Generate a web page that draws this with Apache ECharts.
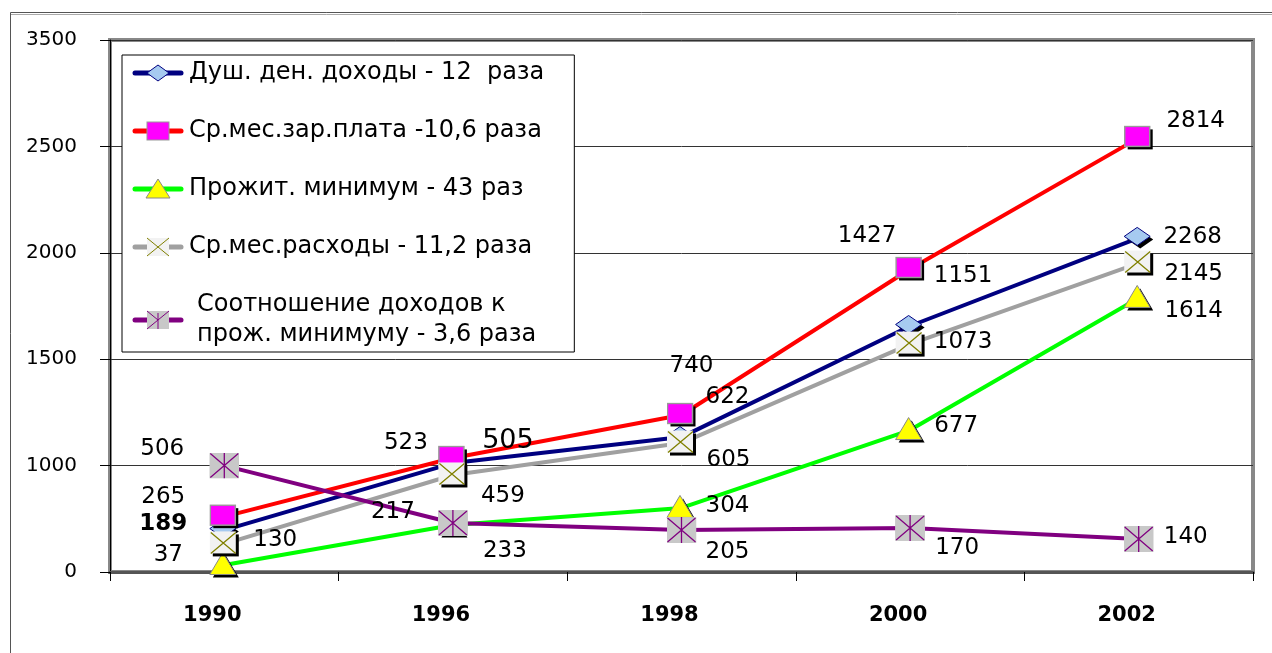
<!DOCTYPE html>
<html>
<head>
<meta charset="utf-8">
<title>Доходы и расходы населения</title>
<script src="https://cdn.jsdelivr.net/npm/echarts@6/dist/echarts.min.js"></script>
<style>
  html, body { margin: 0; padding: 0; background: #fff; }
  #chart { width: 1272px; height: 653px; }
</style>
</head>
<body>
<div id="chart"></div>
<script>
// годы
const years = ['1990', '1996', '1998', '2000', '2002']

// положение точек по шкале графика
const incomeValues = [697, 1012, 1134, 1656, 2070]
const wageValues = [760, 1036, 1238, 1924, 2540]
const minimumValues = [533, 721, 801, 1167, 1788]
const spendingValues = [632, 956, 1106, 1571, 1952]
const ratioValues = [1000, 730, 697, 707, 655]

// подписи у точек
const incomeLabels = ['189', '505', '622', '1151', '2268']
const wageLabels = ['265', '523', '740', '1427', '2814']
const minimumLabels = ['37', '217', '304', '677', '1614']
const spendingLabels = ['130', '459', '605', '1073', '2145']
const ratioLabels = ['506', '233', '205', '170', '140']

// шкала Y (так подписана в оригинале)
const yTickValues = [500, 1000, 1500, 2000, 2500, 3000]
const yTickLabels = ['0', '1000', '1500', '2000', '2500', '3500']

const names = [
  'Душ. ден. доходы - 12  раза',
  'Ср.мес.зар.плата -10,6 раза',
  'Прожит. минимум - 43 раз',
  'Ср.мес.расходы - 11,2 раза',
  'Соотношение доходов к\nпрож. минимуму - 3,6 раза'
]

const FONT = 'DejaVu Sans'

function svg (w, h, body) {
  return 'image://data:image/svg+xml;charset=utf-8,' + encodeURIComponent(
    '<svg xmlns="http://www.w3.org/2000/svg" width="' + w + '" height="' + h + '">' + body + '</svg>')
}

// маркеры на графике (с тенью)
const markers = {
  diamond: svg(31, 23, '<polygon points="4,13 17,4 30,13 17,22" fill="#000"/>' +
    '<polygon points="1,10 14,1 27,10 14,19" fill="#a6caf0" stroke="#000080" stroke-width="1"/>'),
  square: svg(30, 25, '<rect x="4" y="4" width="25" height="20" fill="#000"/>' +
    '<rect x="1" y="1" width="25" height="20" fill="#ff00ff" stroke="#999" stroke-width="1.5"/>'),
  triangle: svg(31, 27, '<polygon points="4,26 17,4 30,26" fill="#000"/>' +
    '<polygon points="1,23 14,1 27,23" fill="#ffff00" stroke="#888" stroke-width="1"/>'),
  cross: svg(31, 27, '<rect x="4" y="4" width="26" height="22" fill="#000"/>' +
    '<rect x="1" y="1" width="26" height="22" fill="#f2f2f2"/>' +
    '<path d="M2,2 L27,23 M27,2 L2,23" stroke="#808000" stroke-width="1.3"/>'),
  star: svg(30, 26, '<rect x="0" y="0" width="30" height="26" fill="#c8c8c8"/>' +
    '<path d="M1,1 L29,25 M29,1 L1,25 M15,0 L15,26" stroke="#800080" stroke-width="1.3"/>')
}
const markerSizes = {
  diamond: [31, 23], square: [30, 25], triangle: [31, 27], cross: [31, 27], star: [30, 26]
}

// значки легенды: линия + маркер
function legendIcon (color, body) {
  return svg(52, 22, '<line x1="3" y1="11" x2="49" y2="11" stroke="' + color +
    '" stroke-width="5" stroke-linecap="round"/>' + body)
}
const legendIcons = [
  legendIcon('#000080', '<polygon points="15,11 26,3 37,11 26,19" fill="#a6caf0" stroke="#000080"/>'),
  legendIcon('#ff0000', '<rect x="15" y="2" width="22" height="18" fill="#ff00ff" stroke="#999"/>'),
  legendIcon('#00ff00', '<polygon points="14,20 26,1 38,20" fill="#ffff00" stroke="#888"/>'),
  legendIcon('#a0a0a0', '<rect x="15" y="2" width="22" height="18" fill="#f2f2f2"/>' +
    '<path d="M15,2 L37,20 M37,2 L15,20" stroke="#808000"/>'),
  legendIcon('#800080', '<rect x="15" y="2" width="22" height="18" fill="#c8c8c8"/>' +
    '<path d="M15,20 L37,2 M15,2 L26,11 M26,4 L26,20" stroke="#800080"/>')
]

// смещения подписей относительно точек
const offsets = {
  income: [[-61, -6], [55, -22], [46, -40], [53, -50], [54, -1]],
  wage: [[-61, -20], [-47, -15], [10, -49], [-43, -33], [57, -17]],
  minimum: [[-56, -10], [-60, -13], [46, -2], [46, -4], [55, 13]],
  spending: [[51, -4], [50, 21], [47, 17], [53, -2], [55, 11]],
  ratio: [[-62, -17], [52, 28], [46, 22], [47, 20], [47, -2]]
}
const labelStyleOverride = {
  income: [{ fontWeight: 'bold' }, { fontSize: 27 }, {}, {}, {}]
}

function makeSeries (name, values, labels, color, marker, key) {
  const extra = labelStyleOverride[key] || []
  return {
    name: name,
    type: 'line',
    data: values.map((v, i) => ({
      value: v,
      label: Object.assign({ offset: offsets[key][i] }, extra[i] || {})
    })),
    symbol: markers[marker],
    symbolSize: markerSizes[marker],
    lineStyle: { color: color, width: 4 },
    itemStyle: { color: color },
    label: {
      show: true,
      position: 'inside',
      formatter: p => labels[p.dataIndex],
      color: '#000',
      fontFamily: FONT,
      fontSize: 23,
      align: 'center',
      verticalAlign: 'middle'
    },
    emphasis: { disabled: true },
    animation: false
  }
}

const chart = echarts.init(document.getElementById('chart'))
chart.setOption({
  backgroundColor: '#fff',
  animation: false,
  graphic: [
    { type: 'rect', shape: { x: 10.5, y: 12.5, width: 1400, height: 800 },
      style: { fill: 'none', stroke: '#555', lineWidth: 1 } },
    { type: 'line', shape: { x1: 11, y1: 14.5, x2: 1272, y2: 14.5 },
      style: { stroke: '#aaa', lineWidth: 1 } }
  ],
  grid: {
    left: 110,
    right: 19,
    top: 40,
    bottom: 81,
    show: true,
    borderColor: '#888',
    borderWidth: 4,
    backgroundColor: '#fff'
  },
  legend: {
    orient: 'vertical',
    left: 122,
    top: 55,
    padding: [3, 30, 2, 10],
    itemGap: 28,
    itemWidth: 52,
    itemHeight: 22,
    backgroundColor: '#fff',
    borderColor: '#000',
    borderWidth: 1,
    borderRadius: 0,
    data: names.map((n, i) => ({ name: n, icon: legendIcons[i] })),
    formatter: n => n.indexOf('\n') > 0
      ? n.split('\n').map(s => '{p|' + s + '}').join('\n')
      : n,
    textStyle: {
      fontFamily: FONT,
      fontSize: 24,
      lineHeight: 30,
      color: '#000',
      rich: {
        p: { fontFamily: FONT, fontSize: 24, lineHeight: 30, color: '#000', padding: [0, 0, 0, 8] }
      }
    }
  },
  xAxis: {
    type: 'category',
    data: years,
    axisLine: { show: true, lineStyle: { color: '#555', width: 3 } },
    axisTick: { show: true, length: 9, lineStyle: { color: '#000', width: 1 } },
    axisLabel: {
      margin: 33,
      padding: [0, 24, 0, 0],
      color: '#000',
      fontFamily: FONT,
      fontSize: 21,
      fontWeight: 'bold'
    },
    splitLine: { show: false }
  },
  yAxis: {
    type: 'value',
    min: 500,
    max: 3000,
    interval: 500,
    axisLine: { show: true, lineStyle: { color: '#000', width: 1 } },
    axisTick: { show: true, length: 10, lineStyle: { color: '#000' } },
    axisLabel: {
      margin: 33,
      color: '#000',
      fontFamily: FONT,
      fontSize: 20,
      formatter: v => yTickLabels[yTickValues.indexOf(v)]
    },
    splitLine: { show: true, lineStyle: { color: '#333', width: 1 } }
  },
  series: [
    makeSeries(names[0], incomeValues, incomeLabels, '#000080', 'diamond', 'income'),
    makeSeries(names[1], wageValues, wageLabels, '#ff0000', 'square', 'wage'),
    makeSeries(names[2], minimumValues, minimumLabels, '#00ff00', 'triangle', 'minimum'),
    makeSeries(names[3], spendingValues, spendingLabels, '#a0a0a0', 'cross', 'spending'),
    makeSeries(names[4], ratioValues, ratioLabels, '#800080', 'star', 'ratio')
  ]
})
</script>
</body>
</html>
